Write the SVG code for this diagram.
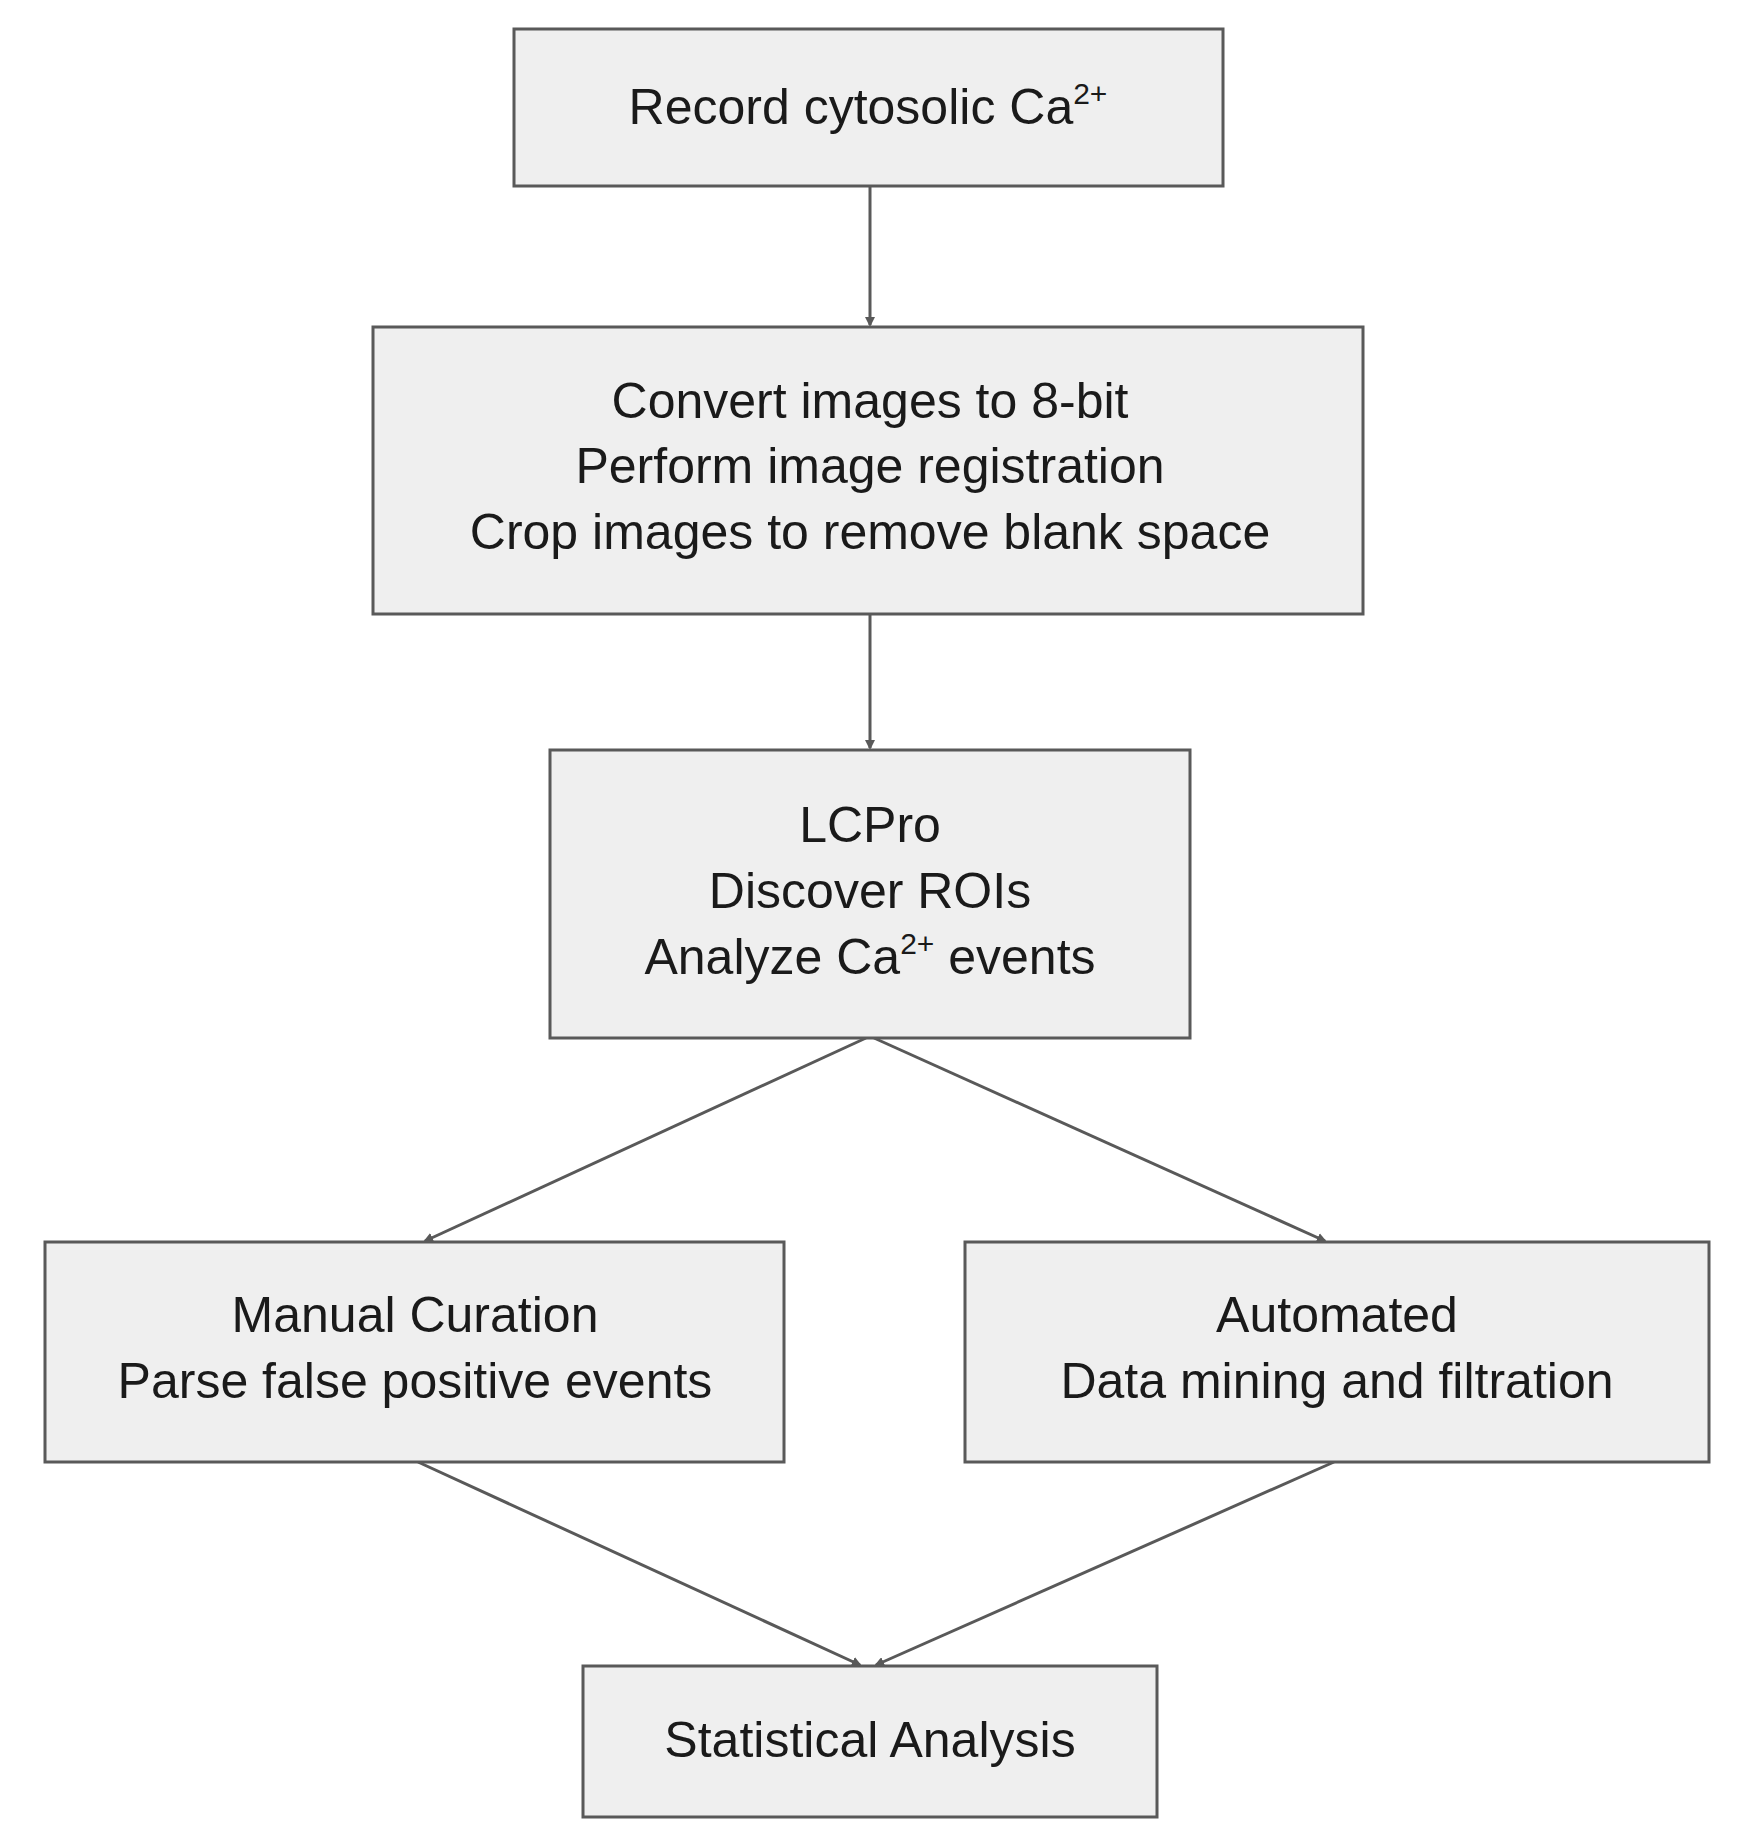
<svg xmlns="http://www.w3.org/2000/svg" width="1741" height="1839" viewBox="0 0 1741 1839">
<style>
.b{fill:#efefef;stroke:#595959;stroke-width:3}
.t{font-family:"Liberation Sans",Arial,sans-serif;font-size:50px;fill:#1a1a1a;text-anchor:middle}
.c{stroke:#595959;stroke-width:3;fill:none;marker-end:url(#a)}
</style>
<defs><marker id="a" markerWidth="10" markerHeight="10" refX="8" refY="5" orient="auto" markerUnits="userSpaceOnUse"><path d="M0,0 L10,5 L0,10 z" fill="#595959"/></marker></defs>
<rect width="1741" height="1839" fill="#fff"/>
<g id="connectors">
<line class="c" x1="870" y1="186" x2="870" y2="325"/>
<line class="c" x1="870" y1="614" x2="870" y2="748"/>
<line class="c" x1="866" y1="1038" x2="425" y2="1241"/>
<line class="c" x1="874" y1="1038" x2="1325" y2="1241"/>
<line class="c" x1="418" y1="1462" x2="860" y2="1665"/>
<line class="c" x1="1334" y1="1462" x2="876" y2="1665"/>
</g>
<g id="n1"><rect class="b" x="514" y="29" width="709" height="157"/><text class="t" x="868" y="124">Record cytosolic Ca<tspan font-size="30" dy="-20">2+</tspan></text></g>
<g id="n2"><rect class="b" x="373" y="327" width="990" height="287"/><text class="t" x="870" y="418">Convert images to 8-bit</text><text class="t" x="870" y="483">Perform image registration</text><text class="t" x="870" y="549">Crop images to remove blank space</text></g>
<g id="n3"><rect class="b" x="550" y="750" width="640" height="288"/><text class="t" x="870" y="842">LCPro</text><text class="t" x="870" y="908">Discover ROIs</text><text class="t" x="870" y="974">Analyze Ca<tspan font-size="30" dy="-20">2+</tspan><tspan dy="20"> events</tspan></text></g>
<g id="n4"><rect class="b" x="45" y="1242" width="739" height="220"/><text class="t" x="415" y="1332">Manual Curation</text><text class="t" x="415" y="1398">Parse false positive events</text></g>
<g id="n5"><rect class="b" x="965" y="1242" width="744" height="220"/><text class="t" x="1337" y="1332">Automated</text><text class="t" x="1337" y="1398">Data mining and filtration</text></g>
<g id="n6"><rect class="b" x="583" y="1666" width="574" height="151"/><text class="t" x="870" y="1757">Statistical Analysis</text></g>
</svg>
